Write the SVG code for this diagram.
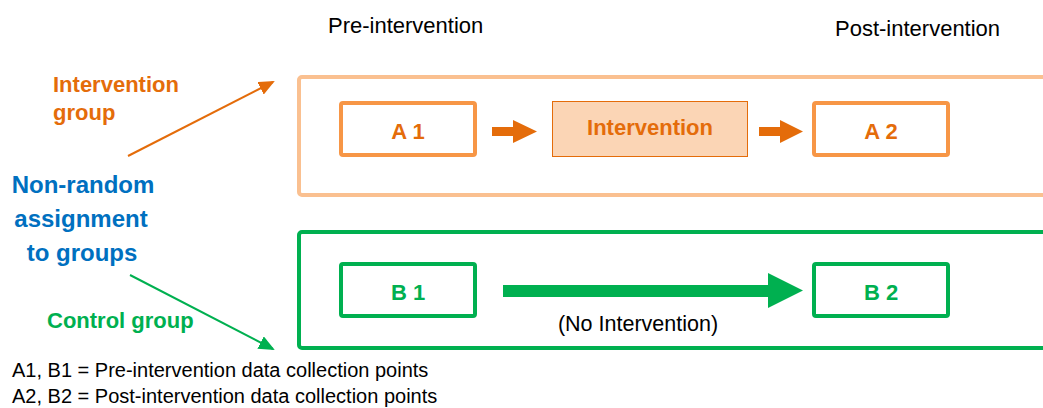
<svg xmlns="http://www.w3.org/2000/svg" width="1043" height="408" viewBox="0 0 1043 408">
<style>
text{font-family:"Liberation Sans",Arial,sans-serif}
.hdr{font-size:22px;fill:#000}
.lbl{font-size:22px;font-weight:bold}
.org{fill:#E46C0A}
.grn{fill:#00B050}
.blu{fill:#0070C0;font-size:24px;font-weight:bold}
.box-o{fill:#fff;stroke:#F79646;stroke-width:4}
.box-g{fill:#fff;stroke:#00B050;stroke-width:4}
.foot{font-size:20px;fill:#000}
</style>
<defs>
<marker id="ah-o" markerWidth="8" markerHeight="7" refX="7" refY="3.5" orient="auto" markerUnits="strokeWidth"><path d="M0,0 L8,3.5 L0,7 Z" fill="#E46C0A"/></marker>
<marker id="ah-g" markerWidth="8" markerHeight="7" refX="7" refY="3.5" orient="auto" markerUnits="strokeWidth"><path d="M0,0 L8,3.5 L0,7 Z" fill="#00B050"/></marker>
</defs>
<rect width="1043" height="408" fill="#fff"/>
<g id="headers">
<text class="hdr" x="328" y="33">Pre-intervention</text>
<text class="hdr" x="835" y="36">Post-intervention</text>
</g>
<g id="group-intervention">
<rect x="299" y="77" width="800" height="118" rx="3" fill="none" stroke="#FAC090" stroke-width="4"/>
</g>
<g id="group-control">
<rect x="299" y="232" width="800" height="116" rx="3" fill="none" stroke="#00B050" stroke-width="4"/>
</g>
<g id="label-intervention-group">
<text class="lbl org" x="53" y="92">Intervention</text>
<text class="lbl org" x="53" y="120">group</text>
</g>
<g id="label-assignment">
<text class="blu" x="83" y="193" text-anchor="middle">Non-random</text>
<text class="blu" x="81" y="227" text-anchor="middle">assignment</text>
<text class="blu" x="82" y="261" text-anchor="middle">to groups</text>
</g>
<g id="label-control-group">
<text class="lbl grn" x="47" y="328">Control group</text>
</g>
<g id="node-A1">
<rect class="box-o" x="341" y="103" width="134" height="52" rx="2"/>
<text class="lbl org" x="408" y="139" text-anchor="middle">A 1</text>
</g>
<g id="node-intervention">
<rect x="552.5" y="101.5" width="195" height="55" fill="#FBD5B5" stroke="#E46C0A" stroke-width="1"/>
<text class="lbl org" x="650" y="135" text-anchor="middle">Intervention</text>
</g>
<g id="node-A2">
<rect class="box-o" x="814" y="103" width="134" height="52" rx="2"/>
<text class="lbl org" x="881" y="139" text-anchor="middle">A 2</text>
</g>
<g id="node-B1">
<rect class="box-g" x="341" y="264" width="134" height="52" rx="2"/>
<text class="lbl grn" x="408" y="300" text-anchor="middle">B 1</text>
</g>
<g id="node-B2">
<rect class="box-g" x="814" y="264" width="134" height="52" rx="2"/>
<text class="lbl grn" x="881" y="300" text-anchor="middle">B 2</text>
</g>
<g id="connectors">
<line x1="128" y1="156" x2="273" y2="82" stroke="#E46C0A" stroke-width="2" marker-end="url(#ah-o)"/>
<line x1="130" y1="275" x2="273" y2="349" stroke="#00B050" stroke-width="2" marker-end="url(#ah-g)"/>
<polygon points="492,127 513,127 513,120 537,131.5 513,143 513,136 492,136" fill="#E46C0A"/>
<polygon points="759,127 780,127 780,120 803,131.5 780,143 780,136 759,136" fill="#E46C0A"/>
<polygon points="503,285 768,285 768,273 803,290.5 768,308 768,297 503,297" fill="#00B050"/>
<text x="638" y="331" text-anchor="middle" style="font-size:21.5px;fill:#000">(No Intervention)</text>
</g>
<g id="legend">
<text class="foot" x="12" y="377">A1, B1 = Pre-intervention data collection points</text>
<text class="foot" x="12" y="403">A2, B2 = Post-intervention data collection points</text>
</g>
</svg>
